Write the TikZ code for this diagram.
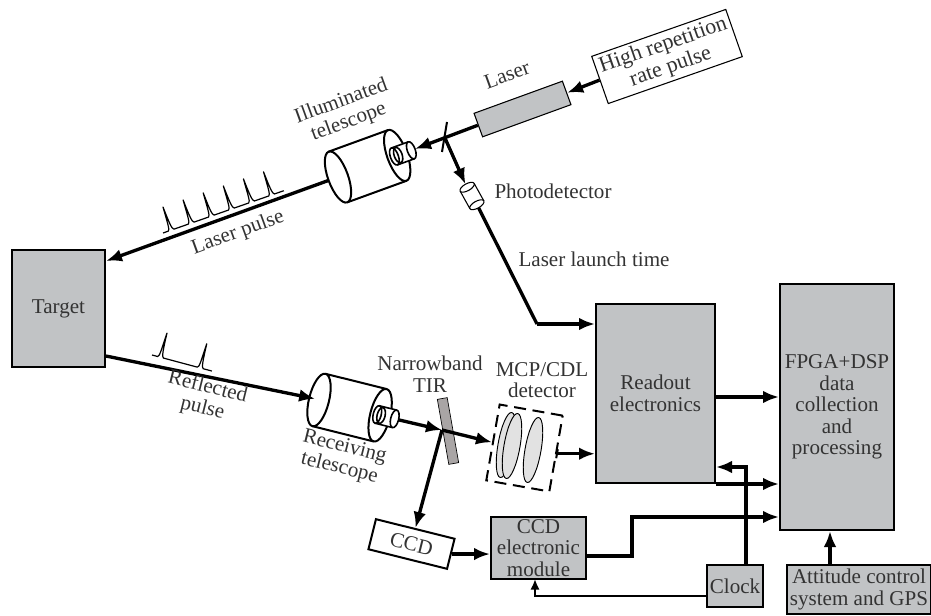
\documentclass[tikz,border=0pt]{standalone}
\usepackage{fontspec}
\setmainfont{Liberation Serif}
\usetikzlibrary{arrows.meta,calc,shapes.geometric}

\definecolor{boxgray}{HTML}{C1C3C5}
\definecolor{plategray}{HTML}{A9A5A5}
\definecolor{lensgray}{HTML}{E2E2E2}
\definecolor{inkgray}{HTML}{333333}

\tikzset{
  pics/telescope/.style={code={
    \fill[white] (0,-27) rectangle (63,27);
    \draw[line width=1.5pt] (0,-27) -- (63,-27) (0,27) -- (63,27);
    \draw[line width=1.5pt] (0,0) ellipse[x radius=10,y radius=27];
    \draw[line width=1.5pt] (63,0) ellipse[x radius=10,y radius=27];
    \fill[white] (60,-9) rectangle (78,9);
    \draw[line width=1.2pt] (60,-9) -- (78,-9) (60,9) -- (78,9);
    \draw[line width=1.2pt] (78,0) ellipse[x radius=4,y radius=9];
    \draw[line width=1.2pt] (60,0) ellipse[x radius=4,y radius=9];
    \draw[line width=1.2pt] (64,0) ellipse[x radius=4,y radius=8];
    \coordinate (-front) at (-10,0);
    \coordinate (-rear) at (82,0);
  }},
  pics/photocell/.style={code={
    \fill[white] (-10,-8) rectangle (10,8);
    \draw[line width=0.8pt] (-10,-8) -- (10,-8) (-10,8) -- (10,8);
    \draw[line width=0.8pt, fill=white] (-10,0) ellipse[x radius=3.5,y radius=8];
    \draw[line width=0.8pt] (10,0) ellipse[x radius=3.5,y radius=8];
    \coordinate (-top) at (-13.5,0);
    \coordinate (-bottom) at (13.5,0);
  }}
}

\begin{document}
\begin{tikzpicture}[x=0.75pt, y=-0.75pt, font=\fontsize{15.8}{16.2}\selectfont,
    text=inkgray, >={Latex[length=12pt,width=9.5pt]},
    graybox/.style={draw=black, fill=boxgray, line width=1.5pt, align=center, inner sep=0pt},
    whitebox/.style={draw=black, fill=white, align=center, inner sep=0pt},
    boxsize/.style 2 args={minimum width=#1*0.75pt, minimum height=#2*0.75pt},
    notetext/.style={align=center, inner sep=0pt},
    lens/.style={draw=black, fill=lensgray, ellipse, line width=0.7pt, rotate=-10,
      minimum width=16*0.75pt, minimum height=66*0.75pt, inner sep=0pt},
    arrow/.style={->, line width=2.5pt},
    wire/.style={line width=2.5pt},
    thinarrow/.style={-{Latex[length=8pt,width=7pt]}, line width=2pt},
    pulsetrace/.style={line width=0.9pt, line join=round} ]

    \useasboundingbox (0,0) rectangle (931,616);

    % boxes
    \node[graybox, boxsize={93}{117}]  (target)  at (58.5,308.5) {Target};
    \node[graybox, boxsize={119}{179}] (readout) at (655.5,393.5) {Readout\\electronics};
    \node[graybox, boxsize={114}{246}] (fpga)    at (837,407) {FPGA+DSP\\data\\collection\\and\\processing};
    \node[graybox, boxsize={56}{42}]   (clock)   at (735,586) {Clock};
    \node[graybox, boxsize={144}{49}]  (gps)     at (859,589.5) {Attitude control\\system and GPS};
    \node[graybox, boxsize={95}{62}]   (module)  at (538.5,548) {CCD\\electronic\\module};
    \node[whitebox, line width=1.5pt, boxsize={81}{31}, rotate=-14] (ccd) at (411.5,544) {CCD};
    \node[whitebox, line width=0.8pt, boxsize={142}{50}, rotate=19.3, font=\fontsize{16.5}{17}\selectfont] (pulse) at (667,56.5) {High repetition\\rate pulse};
    \node[draw=black, fill=boxgray, line width=0.8pt, boxsize={94}{25}, rotate=20] (laser) at (522.5,109) {};
    \node[draw=black, fill=plategray, line width=0.5pt, boxsize={10}{66}, rotate=10] (tir) at (448,431) {};

    % detector
    \node[lens] (lensa) at (506,445) {};
    \node[lens] (lensb) at (512,446) {};
    \node[lens] (lensc) at (533,450) {};
    \node[draw=black, line width=1.5pt, dash pattern=on 9pt off 5pt, boxsize={64}{77}, rotate=-10] (det) at (524.5,448) {};

    % telescopes
    \pic[rotate=20]  (illum)   at (338,177) {telescope};
    \pic[rotate=-14] (receive) at (319,400) {telescope};
    \pic[rotate=-61] (photo)   at (472,196) {photocell};

    % beam paths
    \coordinate (split) at (444.5,137);
    \coordinate (tirhit) at (442,430);
    \coordinate (launch) at (537,324);
    \draw[arrow] (pulse.west) -- (laser.east);
    \draw[arrow] (laser.west) -- (illum-rear);
    \draw[line width=1.5pt] ($(split)+(2.5,-15)$) -- ($(split)+(-2.5,15)$);
    \draw[arrow] (split) -- (photo-top);
    \draw[arrow] (illum-front) -- (target.45.6);
    \draw[arrow, shorten >=-4.5pt] (target.-45.6) -- (receive-front);
    \draw[arrow] (receive-rear) -- (tirhit);
    \draw[arrow] (tirhit) -- (det.west);
    \draw[arrow] (tirhit) -- (ccd.north);
    \draw[wire] (photo-bottom) -- (launch);
    \draw[arrow] (launch) -- (launch -| readout.west);

    % signal paths
    \draw[arrow] (det.east) -- (det.east -| readout.west);
    \draw[line width=1.5pt] ($(det.east)+(0.8,-4.5)$) -- ($(det.east)+(-0.8,4.5)$);
    \draw[arrow] (ccd.east) -- (ccd.east -| module.west);
    \draw[arrow] (readout.east |- 0,397) -- (fpga.west |- 0,397);
    \draw[arrow] (readout.south east) -- (fpga.west |- readout.south east);
    \draw[arrow] (module.east |- 0,556) -- (632,556) |- (fpga.west |- 0,517);
    \draw[arrow] (clock.north |- 0,565) ++(11,0) |- (readout.east |- 0,467);
    \draw[thinarrow] (clock.west |- 0,596) -| (535,579);
    \draw[arrow] (gps.north -| 830,0) -- (fpga.south -| 830,0);

    % pulse traces
    \begin{scope}[shift={(163,233)}, rotate=19.3]
      \draw[pulsetrace] (0,0) \foreach \px in {8.6,29.9,51.2,72.5,93.8,115.1}
        { -- (\px-3,0) .. controls (\px-1,0) and (\px-1,-10) .. (\px,-24.5)
          .. controls (\px+0.5,-10) and (\px+1,0) .. (\px+3,0) } -- (128,0);
    \end{scope}
    \begin{scope}[shift={(152,355)}, rotate=-15]
      \draw[pulsetrace] (0,0) \foreach \px in {8.8,50}
        { -- (\px-3,0) .. controls (\px-1,0) and (\px-1,-10) .. (\px,-25)
          .. controls (\px+0.5,-10) and (\px+1,0) .. (\px+3,0) } -- (62,0);
    \end{scope}

    % labels
    \node[notetext, rotate=20]  (lasertext)  at (507,75)  {Laser};
    \node[notetext, rotate=20]  (illumtext)  at (345,112) {Illuminated\\telescope};
    \node[notetext]             (phototext)  at (553,191) {Photodetector};
    \node[notetext]             (launchtext) at (594,259) {Laser launch time};
    \node[notetext, rotate=20]  (pulsetext)  at (238,233) {Laser pulse};
    \node[notetext, rotate=-14] (refltext)   at (205,398) {Reflected\\pulse};
    \node[notetext, rotate=-14] (recvtext)   at (342,458) {Receiving\\telescope};
    \node[notetext]             (tirtext)    at (430,374) {Narrowband\\TIR};
    \node[notetext]             (dettext)    at (542,380) {MCP/CDL\\detector};

  \end{tikzpicture}
\end{document}
